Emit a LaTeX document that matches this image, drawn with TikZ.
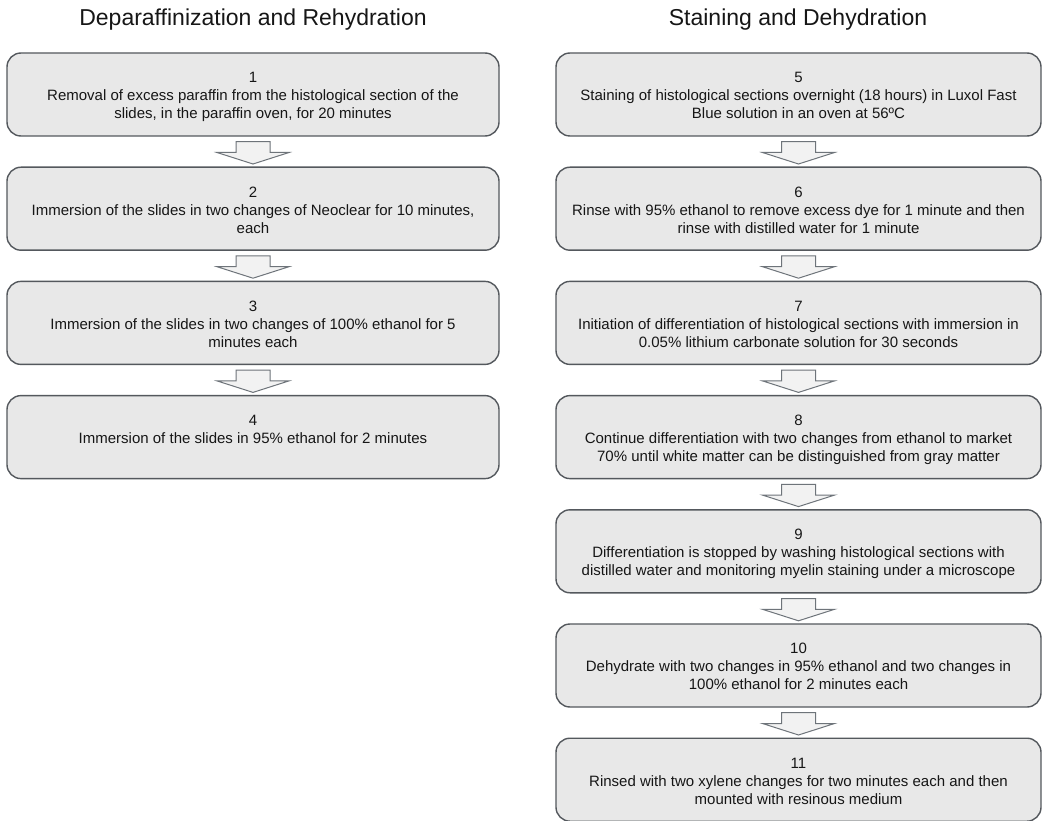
\documentclass[tikz,border=0pt]{standalone}
\usepackage{fontspec}
\setmainfont{Liberation Sans}
\usetikzlibrary{calc}
\definecolor{boxfill}{HTML}{E8E8E8}
\definecolor{boxline}{HTML}{54585D}
\definecolor{arrline}{HTML}{6E747A}
\definecolor{arrfill}{HTML}{F2F2F2}
\definecolor{txt}{HTML}{161616}
\begin{document}
\begin{tikzpicture}[x=1pt,y=-1pt,
  stepbox/.style={draw=boxline, fill=boxfill, line width=1.4pt, rounded corners=14pt, minimum height=83pt, inner sep=0pt},
  lbox/.style={stepbox, minimum width=492pt},
  rbox/.style={stepbox, minimum width=485pt},
  steptext/.style={anchor=north, align=center, text=txt, font=\fontsize{15}{18}\selectfont, inner sep=0pt},
  header/.style={font=\fontsize{23}{27}\selectfont, text=txt, anchor=base, inner sep=0pt},
  blockarrow/.style={draw=arrline, fill=arrfill, line width=1pt, line join=miter}]
\useasboundingbox (0,0) rectangle (1042,821);
\fill[white] (0,0) rectangle (1042,821);

\node[header] (hl) at (253,26) {Deparaffinization and Rehydration};
\node[header] (hr) at (798,26) {Staining and Dehydration};

% left column
\node[lbox] (b1) at (253,94.5) {};
\node[lbox] (b2) at (253,208.7) {};
\node[lbox] (b3) at (253,322.9) {};
\node[lbox] (b4) at (253,437.1) {};
% right column
\node[rbox] (b5) at (798.5,94.5) {};
\node[rbox] (b6) at (798.5,208.7) {};
\node[rbox] (b7) at (798.5,322.9) {};
\node[rbox] (b8) at (798.5,437.1) {};
\node[rbox] (b9) at (798.5,551.3) {};
\node[rbox] (b10) at (798.5,665.5) {};
\node[rbox] (b11) at (798.5,779.7) {};

\node[steptext] (t1) at ($(b1.north)+(0,20)$) {1\\Removal of excess paraffin from the histological section of the\\slides, in the paraffin oven, for 20 minutes};
\node[steptext] (t2) at ($(b2.north)+(0,20)$) {2\\Immersion of the slides in two changes of Neoclear for 10 minutes,\\each};
\node[steptext] (t3) at ($(b3.north)+(0,20)$) {3\\Immersion of the slides in two changes of 100\% ethanol for 5\\minutes each};
\node[steptext] (t4) at ($(b4.north)+(0,20)$) {4\\Immersion of the slides in 95\% ethanol for 2 minutes};
\node[steptext] (t5) at ($(b5.north)+(0,20)$) {5\\Staining of histological sections overnight (18 hours) in Luxol Fast\\Blue solution in an oven at 56ºC};
\node[steptext] (t6) at ($(b6.north)+(0,20)$) {6\\Rinse with 95\% ethanol to remove excess dye for 1 minute and then\\rinse with distilled water for 1 minute};
\node[steptext] (t7) at ($(b7.north)+(0,20)$) {7\\Initiation of differentiation of histological sections with immersion in\\0.05\% lithium carbonate solution for 30 seconds};
\node[steptext] (t8) at ($(b8.north)+(0,20)$) {8\\Continue differentiation with two changes from ethanol to market\\70\% until white matter can be distinguished from gray matter};
\node[steptext] (t9) at ($(b9.north)+(0,20)$) {9\\Differentiation is stopped by washing histological sections with\\distilled water and monitoring myelin staining under a microscope};
\node[steptext] (t10) at ($(b10.north)+(0,20)$) {10\\Dehydrate with two changes in 95\% ethanol and two changes in\\100\% ethanol for 2 minutes each};
\node[steptext] (t11) at ($(b11.north)+(0,20)$) {11\\Rinsed with two xylene changes for two minutes each and then\\mounted with resinous medium};

\foreach \a/\b in {b1/b2,b2/b3,b3/b4,b5/b6,b6/b7,b7/b8,b8/b9,b9/b10,b10/b11}{
  \draw[blockarrow] ($(\a.south)+(-17,5)$) -- ($(\a.south)+(17,5)$)
    -- ($(\b.north)+(17,-14)$) -- ($(\b.north)+(36,-14)$)
    -- ($(\b.north)+(0,-2.5)$) -- ($(\b.north)+(-36,-14)$)
    -- ($(\b.north)+(-17,-14)$) -- cycle;
}
\end{tikzpicture}
\end{document}
